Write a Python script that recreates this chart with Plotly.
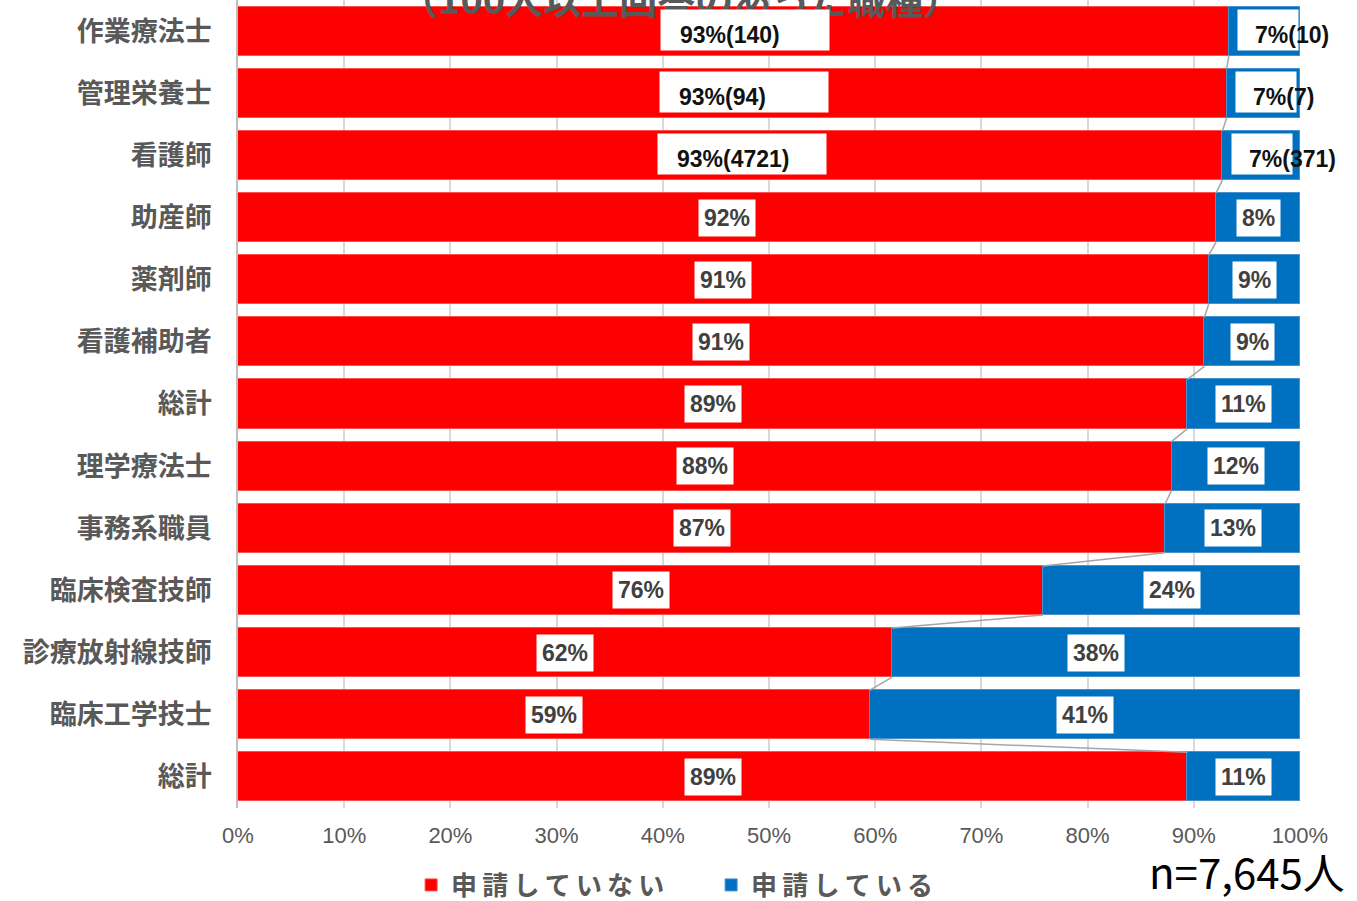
import plotly.graph_objects as go

categories = ["作業療法士", "管理栄養士", "看護師", "助産師", "薬剤師", "看護補助者", "総計",
              "理学療法士", "事務系職員", "臨床検査技師", "診療放射線技師", "臨床工学技士", "総計"]
not_applied = [93.3, 93.1, 92.7, 92.1, 91.4, 91.0, 89.4, 87.9, 87.3, 75.8, 61.6, 59.5, 89.4]
applied = [6.7, 6.9, 7.3, 7.9, 8.6, 9.0, 10.6, 12.1, 12.7, 24.2, 38.4, 40.5, 10.6]
not_labels = ["93%(140)", "93%(94)", "93%(4721)", "92%", "91%", "91%", "89%", "88%", "87%",
              "76%", "62%", "59%", "89%"]
applied_labels = ["7%(10)", "7%(7)", "7%(371)", "8%", "9%", "9%", "11%", "12%", "13%",
                  "24%", "38%", "41%", "11%"]
x_ticks = [0, 10, 20, 30, 40, 50, 60, 70, 80, 90, 100]
x_ticktext = [f"{v}%" for v in x_ticks]
series_names = ["申請していない", "申請している"]

n = len(categories)
ypos = [n - 1 - i for i in range(n)]
W = 0.79
RED = "#FF0000"
BLUE = "#0070C0"
GRAY = "#595959"
FONT = "Liberation Sans, Arial, Noto Sans CJK JP"
JP = "Noto Sans CJK JP"


def spaced(s):
    return "\u2009".join(s)


fig = go.Figure()
fig.add_trace(go.Bar(y=ypos, x=not_applied, orientation="h", name=spaced(series_names[0]),
                     marker=dict(color=RED, line=dict(color="#FF5050", width=1)), width=W,
                     hoverinfo="skip"))
fig.add_trace(go.Bar(y=ypos, x=applied, orientation="h", name=spaced(series_names[1]),
                     marker=dict(color=BLUE, line=dict(color="#4A90CF", width=1)), width=W,
                     hoverinfo="skip"))

# series lines
sx, sy = [], []
for i in range(n - 1):
    sx += [not_applied[i], not_applied[i + 1], None]
    sy += [ypos[i] - W / 2, ypos[i + 1] + W / 2, None]
fig.add_trace(go.Scatter(x=sx, y=sy, mode="lines", line=dict(color="#A6A6A6", width=1.5),
                         showlegend=False, hoverinfo="skip"))

annotations = []
# title (partly outside the visible page, behind the label boxes)
annotations.append(dict(x=0.417, y=1, xref="paper", yref="paper", xanchor="center", yanchor="bottom",
                        yshift=-27, text="<b>（100人以上回答のあった職種）</b>", showarrow=False,
                        font=dict(family=JP, size=38, color=GRAY)))

for i in range(n):
    long_lbl = "(" in not_labels[i]
    if long_lbl:
        annotations.append(dict(
            x=not_applied[i] / 2, y=ypos[i], xref="x", yref="y", xanchor="left", text=" ",
            showarrow=False, bgcolor="white", width=168, height=40, borderpad=0,
            xshift=-73, yshift=1))
        annotations.append(dict(
            x=not_applied[i] / 2, y=ypos[i], xref="x", yref="y", xanchor="left",
            text=f"<b>{not_labels[i]}</b>", showarrow=False,
            font=dict(family=FONT, size=23, color="#111111"), xshift=-55, yshift=-4))
        annotations.append(dict(
            x=not_applied[i] + 0.8, y=ypos[i], xref="x", yref="y", xanchor="left", text=" ",
            showarrow=False, bgcolor="white", width=60, height=40, borderpad=0, yshift=1))
        annotations.append(dict(
            x=not_applied[i] + 0.8, y=ypos[i], xref="x", yref="y", xanchor="left",
            text=f"<b>{applied_labels[i]}</b>", showarrow=False,
            font=dict(family=FONT, size=23, color="#111111"), xshift=16, yshift=-4))
    else:
        annotations.append(dict(
            x=not_applied[i] / 2, y=ypos[i], xref="x", yref="y", text=f"<b>{not_labels[i]}</b>",
            showarrow=False, bgcolor="white",
            font=dict(family=FONT, size=23, color="#404040"), borderpad=5))
        annotations.append(dict(
            x=not_applied[i] + applied[i] / 2, y=ypos[i], xref="x", yref="y",
            text=f"<b>{applied_labels[i]}</b>", showarrow=False, bgcolor="white",
            font=dict(family=FONT, size=23, color="#404040"), borderpad=5))

annotations.append(dict(x=1.044, y=-0.083, xref="paper", yref="paper", xanchor="right", yanchor="middle",
                        yshift=5, text="n=7,645人", showarrow=False,
                        font=dict(family=JP, size=42, color="#000000")))

fig.update_layout(
    width=1357, height=901,
    barmode="stack",
    bargap=0,
    plot_bgcolor="white", paper_bgcolor="white",
    margin=dict(l=238, r=57, t=0, b=93, autoexpand=False),
    xaxis=dict(range=[0, 100], tickvals=x_ticks, ticktext=x_ticktext,
               showgrid=True, gridcolor="#D9D9D9", gridwidth=1.5, zeroline=False,
               tickfont=dict(family=FONT, size=22, color=GRAY), ticks="", showline=False,
               ticklabelstandoff=12),
    yaxis=dict(range=[-0.5, n - 0.5], tickvals=ypos, ticktext=categories,
               tickfont=dict(family=JP, size=27, color=GRAY, weight="bold"),
               showgrid=False, zeroline=False, showline=True, linecolor="#BFBFBF", linewidth=1.5,
               ticks="", ticklabelstandoff=19),
    legend=dict(orientation="h", x=0.163, y=-0.0953, xanchor="left", yanchor="middle",
                font=dict(family=JP, size=26, color=GRAY, weight="bold"), traceorder="normal",
                entrywidth=255, bgcolor="rgba(0,0,0,0)"),
    annotations=annotations,
    showlegend=True,
)

fig.write_html("out.html")
